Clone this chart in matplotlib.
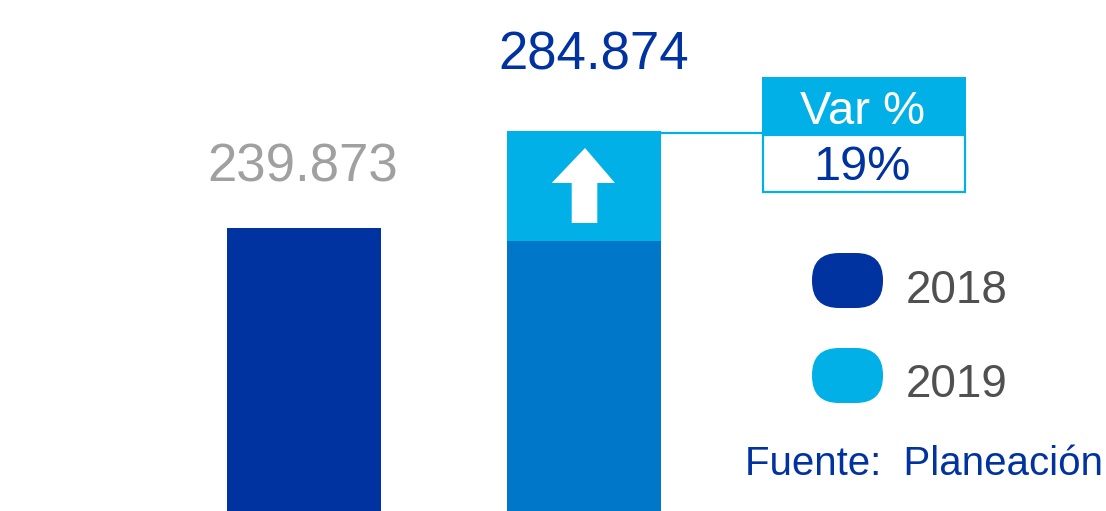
import matplotlib
matplotlib.use("Agg")
import matplotlib.pyplot as plt
from matplotlib.patches import FancyBboxPatch, Rectangle, Polygon

plt.rcParams['font.family'] = ['Liberation Sans', 'DejaVu Sans']

# data
years = ['2018', '2019']
values = [239.873, 284.874]
base_2019 = 233.8          # darker lower part of the 2019 bar
var_pct = '19%'
labels = ['239.873', '284.874']
source = 'Fuente:  Planeación'

DARK = '#0033a0'
MID = '#0077c8'
CYAN = '#00b0e6'
GRAY_VAL = '#a0a0a0'
GRAY_TXT = '#505050'

W, H = 1106, 511
fig = plt.figure(figsize=(W / 100, H / 100), dpi=100)

# bars
ax = fig.add_axes([0, 0, 1, 1])
ax.set_xlim(-1.0857, 2.864)
ax.set_ylim(108.07, 345.83)
ax.axis('off')
bw = 0.55
ax.bar(0, values[0], width=bw, color=DARK, bottom=0)
ax.bar(1, base_2019, width=bw, color=MID)
ax.bar(1, values[1] - base_2019, width=bw, bottom=base_2019, color=CYAN)

# overlay in pixel coords for annotations
ov = fig.add_axes([0, 0, 1, 1])
ov.set_xlim(0, W)
ov.set_ylim(H, 0)
ov.axis('off')
ov.patch.set_alpha(0)

ov.text(302.5, 182, labels[0], color=GRAY_VAL, fontsize=38, ha='center', va='baseline')
ov.text(594, 70, labels[1], color=DARK, fontsize=38, ha='center', va='baseline')

# arrow inside the 2019 bar
arrow = [(585, 148), (615, 183), (597.3, 183), (597.3, 223), (571.7, 223),
         (571.7, 183), (551.7, 183)]
ov.add_patch(Polygon(arrow, closed=True, facecolor='white', edgecolor='none'))

# connector + var box
ov.plot([661, 763], [133, 133], color=CYAN, lw=1.6, solid_capstyle='butt')
ov.add_patch(Rectangle((762, 77), 204, 58, facecolor=CYAN, edgecolor='none'))
ov.add_patch(Rectangle((763, 135), 202, 57, facecolor='white', edgecolor=CYAN, lw=1.6))
ov.text(863, 124, 'Var %', color='white', fontsize=34, ha='center', va='baseline')
ov.text(862, 180, var_pct, color=DARK, fontsize=35, ha='center', va='baseline')

# legend
for col, yr, top, base in [(DARK, years[0], 253, 303), (CYAN, years[1], 348, 397)]:
    ov.add_patch(FancyBboxPatch((812, top), 71, 55,
                                boxstyle='round,pad=0,rounding_size=27',
                                facecolor=col, edgecolor='none'))
    ov.text(906, base, yr, color=GRAY_TXT, fontsize=33, ha='left', va='baseline')

ov.text(745, 475, source, color=DARK, fontsize=29, ha='left', va='baseline')

fig.savefig('out.png', dpi=100)
